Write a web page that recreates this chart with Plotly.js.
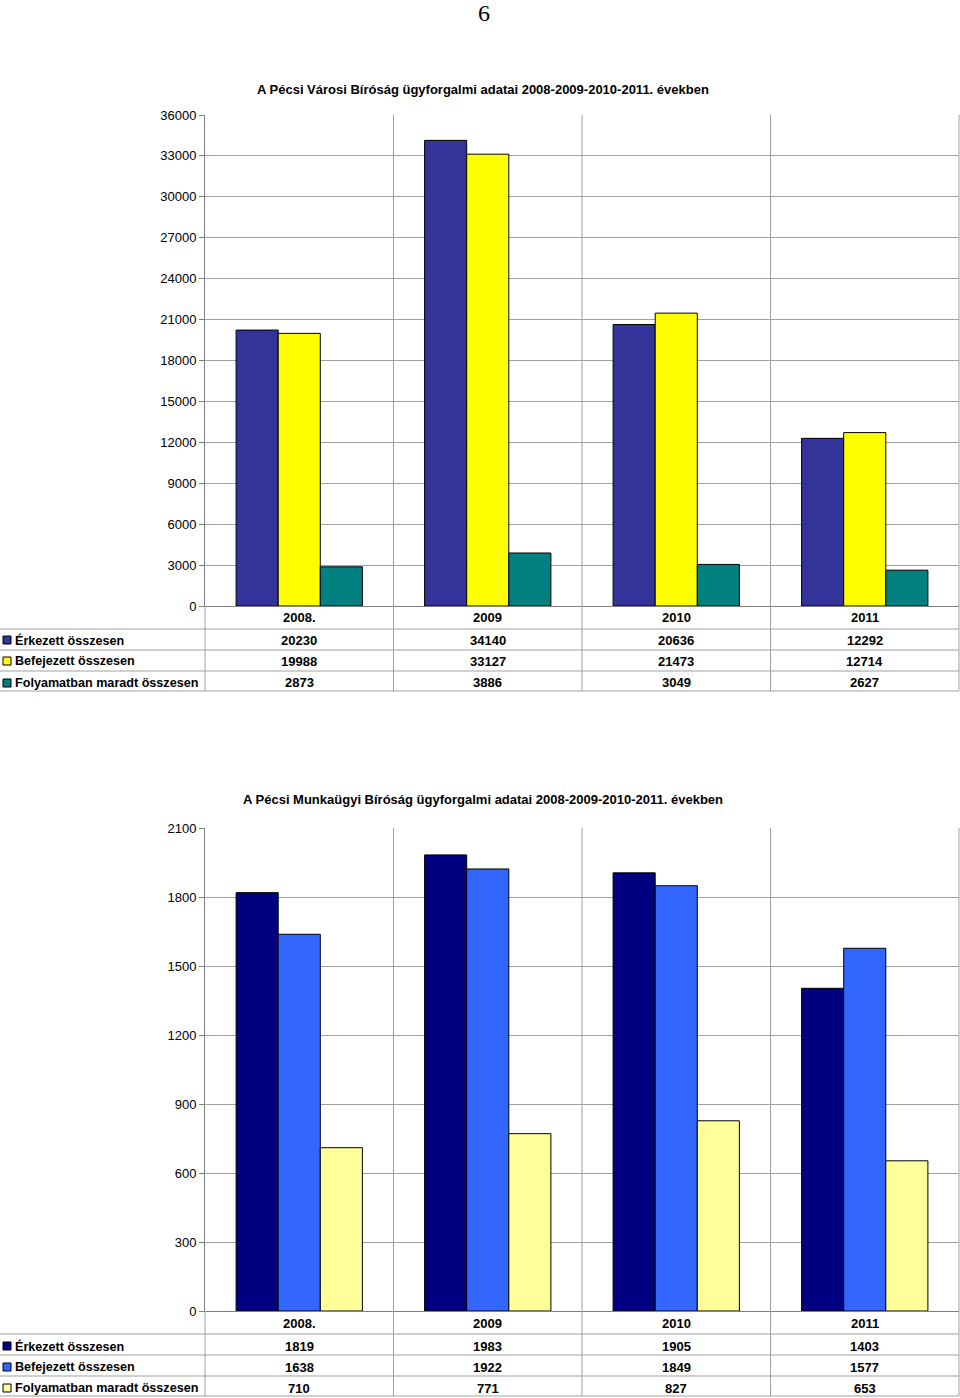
<!DOCTYPE html>
<html>
<head>
<meta charset="utf-8">
<script src="https://cdn.plot.ly/plotly-3.0.1.min.js"></script>
<style>html,body{margin:0;padding:0;background:#fff;}#chart{width:960px;height:1398px;}</style>
</head>
<body>
<div id="chart"></div>
<script>
// ---- data ----
const pageNumber = "6";
const categories = ["2008.", "2009", "2010", "2011"];
const seriesNames = ["Érkezett összesen", "Befejezett összesen", "Folyamatban maradt összesen"];

const title1 = "A Pécsi Városi Bíróság ügyforgalmi adatai 2008-2009-2010-2011. években";
const varosiErkezett = [20230, 34140, 20636, 12292];
const varosiBefejezett = [19988, 33127, 21473, 12714];
const varosiFolyamatban = [2873, 3886, 3049, 2627];
const yTicks1 = [0, 3000, 6000, 9000, 12000, 15000, 18000, 21000, 24000, 27000, 30000, 33000, 36000];

const title2 = "A Pécsi Munkaügyi Bíróság ügyforgalmi adatai 2008-2009-2010-2011. években";
const munkaErkezett = [1819, 1983, 1905, 1403];
const munkaBefejezett = [1638, 1922, 1849, 1577];
const munkaFolyamatban = [710, 771, 827, 653];
const yTicks2 = [0, 300, 600, 900, 1200, 1500, 1800, 2100];

// ---- styling / layout helpers ----
const W = 960, H = 1398;
const px = p => p / W;
const py = p => 1 - p / H;
const FONT = '"Liberation Sans", Arial, sans-serif';
const colors1 = ["#333399", "#FFFF00", "#008080"];
const colors2 = ["#000080", "#3366FF", "#FFFF99"];
const plotLeft = 205, plotRight = 959;

const charts = [
  {title: title1, series: [varosiErkezett, varosiBefejezett, varosiFolyamatban], colors: colors1,
   ticks: yTicks1, top: 115, bottom: 606, titleY: 90, rows: [617, 640, 661, 683], hlines: [629, 650, 671, 691], xa: 'x', ya: 'y'},
  {title: title2, series: [munkaErkezett, munkaBefejezett, munkaFolyamatban], colors: colors2,
   ticks: yTicks2, top: 828, bottom: 1311, titleY: 799, rows: [1323, 1346, 1367, 1388], hlines: [1334, 1355, 1376, 1396], xa: 'x2', ya: 'y2'}
];

const traces = [];
const shapes = [];
const annotations = [];
const layout = {
  width: W, height: H,
  margin: {l: 0, r: 0, t: 0, b: 0},
  paper_bgcolor: '#fff', plot_bgcolor: '#fff',
  showlegend: false,
  barmode: 'group', bargap: 0.33, bargroupgap: 0,
  font: {family: FONT, size: 13, color: '#000'},
  shapes: shapes, annotations: annotations
};

annotations.push({text: pageNumber, xref: 'paper', yref: 'paper', x: px(484), y: py(13),
  xanchor: 'center', yanchor: 'middle', showarrow: false,
  font: {family: '"Liberation Serif", "DejaVu Serif", serif', size: 24, color: '#000'}});

charts.forEach((c, ci) => {
  const suffix = ci === 0 ? '' : '2';
  const maxT = c.ticks[c.ticks.length - 1];
  layout['xaxis' + suffix] = {
    domain: [px(plotLeft), px(plotRight)], anchor: c.ya,
    type: 'category', range: [-0.5, categories.length - 0.5],
    showticklabels: false, ticks: '', showgrid: false, zeroline: false,
    showline: true, linecolor: '#808080', linewidth: 1
  };
  layout['yaxis' + suffix] = {
    domain: [py(c.bottom), py(c.top)], anchor: c.xa,
    range: [0, maxT], tickvals: c.ticks, ticktext: c.ticks.map(String),
    ticks: 'outside', ticklen: 5, tickcolor: '#808080',
    showgrid: true, gridcolor: '#a0a0a0', gridwidth: 1, zeroline: false,
    showline: true, linecolor: '#808080', linewidth: 1,
    tickfont: {family: FONT, size: 13, color: '#000'}
  };
  c.series.forEach((vals, si) => {
    traces.push({type: 'bar', x: categories, y: vals, name: seriesNames[si],
      xaxis: c.xa, yaxis: c.ya,
      marker: {color: c.colors[si], line: {color: '#000', width: 1}},
      hoverinfo: 'x+y'});
  });
  // title
  annotations.push({text: '<b>' + c.title + '</b>', xref: 'paper', yref: 'paper',
    x: px(483), y: py(c.titleY), xanchor: 'center', yanchor: 'middle', showarrow: false,
    font: {family: FONT, size: 13, color: '#000'}});
  // right border and category separators
  shapes.push({type: 'line', xref: 'paper', yref: 'paper', x0: px(plotRight), x1: px(plotRight),
    y0: py(c.top), y1: py(c.hlines[3]), line: {color: '#a0a0a0', width: 1}});
  shapes.push({type: 'line', xref: 'paper', yref: 'paper', x0: px(plotLeft), x1: px(plotLeft),
    y0: py(c.bottom), y1: py(c.hlines[3]), line: {color: '#a0a0a0', width: 1}});
  for (let i = 0; i < categories.length - 1; i++) {
    shapes.push({type: 'line', xref: c.xa, yref: 'paper', x0: i + 0.5, x1: i + 0.5,
      y0: py(c.top), y1: py(c.hlines[3]), line: {color: '#a0a0a0', width: 1}});
  }
  // table horizontal lines
  c.hlines.forEach(h => {
    shapes.push({type: 'line', xref: 'paper', yref: 'paper', x0: 0, x1: px(plotRight),
      y0: py(h), y1: py(h), line: {color: '#a0a0a0', width: 1}});
  });
  // header row (categories)
  categories.forEach((cat, i) => {
    annotations.push({text: '<b>' + cat + '</b>', xref: c.xa, yref: 'paper', x: i, y: py(c.rows[0]),
      xanchor: 'center', yanchor: 'middle', showarrow: false, font: {family: FONT, size: 13, color: '#000'}});
  });
  // data rows
  c.series.forEach((vals, si) => {
    const ry = c.rows[si + 1];
    shapes.push({type: 'rect', xref: 'paper', yref: 'paper', x0: px(3), x1: px(11),
      y0: py(ry + 4), y1: py(ry - 4), fillcolor: c.colors[si], line: {color: '#000', width: 1}});
    annotations.push({text: '<b>' + seriesNames[si] + '</b>', xref: 'paper', yref: 'paper',
      x: px(13), y: py(ry), xanchor: 'left', yanchor: 'middle', showarrow: false,
      font: {family: FONT, size: 12.6, color: '#000'}});
    vals.forEach((v, i) => {
      annotations.push({text: '<b>' + v + '</b>', xref: c.xa, yref: 'paper', x: i, y: py(ry),
        xanchor: 'center', yanchor: 'middle', showarrow: false, font: {family: FONT, size: 13, color: '#000'}});
    });
  });
});

Plotly.newPlot('chart', traces, layout, {displayModeBar: false, staticPlot: true});
</script>
</body>
</html>
